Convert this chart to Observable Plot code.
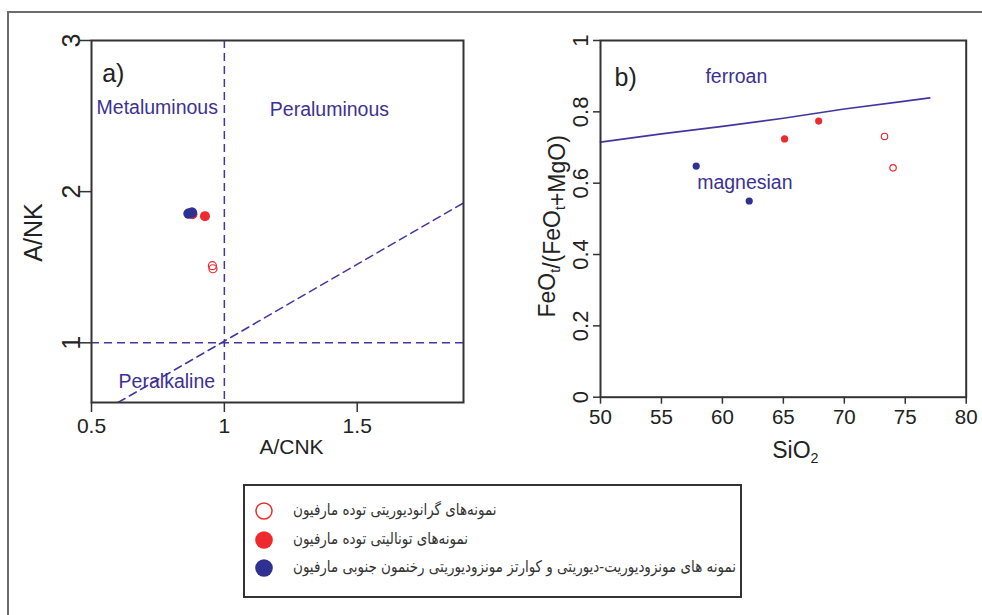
<!DOCTYPE html>
<html>
<head>
<meta charset="utf-8">
<script src="https://cdn.jsdelivr.net/npm/d3@7"></script>
<script src="https://cdn.jsdelivr.net/npm/@observablehq/plot@0.6"></script>
<style>
  body { margin: 0; background: #fff; }
  #fig { position: relative; width: 982px; height: 615px; overflow: hidden; background: #fff;
         font-family: "Liberation Sans", Arial, sans-serif; }
  #outer { position: absolute; left: 7px; top: 11px; width: 1100px; height: 800px;
           border-left: 2px solid #6b6b6b; border-top: 2px solid #6b6b6b; pointer-events: none; }
  .panel { position: absolute; top: 0; }
  #legend { position: absolute; left: 243px; top: 484px; width: 499px; height: 114px;
            border: 2px solid #333; box-sizing: border-box; }
  .lrow { position: absolute; left: 0; height: 24px; }
  .lrow svg { position: absolute; left: 9px; top: 2px; }
  .lrow span { position: absolute; left: 48px; top: 0px; white-space: nowrap; direction: rtl;
               font-family: "DejaVu Sans", sans-serif; font-size: 16px; color: #333; line-height: 22px;
               transform-origin: 0 50%; }
</style>
</head>
<body>
<div id="fig">
  <div id="panelA" class="panel" style="left:0px"></div>
  <div id="panelB" class="panel" style="left:490px"></div>
  <div id="legend"></div>
  <div id="outer"></div>
</div>
<script>
// ---------- data ----------
// Panel a: A/CNK vs A/NK
const acnkGrano = [0.955, 0.957];
const ankGrano  = [1.51, 1.49];
const acnkTonal = [0.88, 0.927];
const ankTonal  = [1.85, 1.838];
const acnkMonzo = [0.865, 0.878];
const ankMonzo  = [1.855, 1.862];
const diagX = [0.6, 1.9];          // dashed boundary line
const diagY = [0.605, 1.925];
const xTicksA = [0.5, 1, 1.5];
const yTicksA = [1, 2, 3];

// Panel b: SiO2 vs FeOt/(FeOt+MgO)
const sio2Grano = [73.3, 74.0];
const feGrano   = [0.731, 0.643];
const sio2Tonal = [65.1, 67.9];
const feTonal   = [0.724, 0.774];
const sio2Monzo = [57.85, 62.2];
const feMonzo   = [0.648, 0.55];
const boundSiO2 = [50, 55, 60, 65, 70, 75, 77];
const boundFe   = [0.715, 0.738, 0.759, 0.782, 0.808, 0.830, 0.839];
const xTicksB = [50, 55, 60, 65, 70, 75, 80];
const yTicksB = [0, 0.2, 0.4, 0.6, 0.8, 1];

// Legend
const legendKinds  = ["open", "red", "blue"];
const legendLabels = [
  "نمونه‌های گرانودیوریتی توده مارفیون",
  "نمونه‌های تونالیتی توده مارفیون",
  "نمونه های مونزودیوریت-دیوریتی و کوارتز مونزودیوریتی رخنمون جنوبی مارفیون"
];

// ---------- styles ----------
const RED = "#ee2a2e", BLUE = "#2e3192", LINE = "#4236a0", LABEL = "#3d3192", INK = "#222";
const FONT = "'Liberation Sans', Arial, sans-serif";
const zip = (xs, ys) => xs.map((x, i) => ({x, y: ys[i]}));
const DASH = {stroke: LINE, strokeWidth: 1.5, strokeDasharray: "8,5"};

// ---------- panel a ----------
const plotA = Plot.plot({
  width: 480, height: 470,
  marginLeft: 91, marginRight: 17, marginTop: 40, marginBottom: 68,
  x: {domain: [0.5, 1.9]},
  y: {domain: [0.605, 3]},
  style: {fontFamily: FONT, background: "transparent", color: INK, overflow: "visible"},
  marks: [
    Plot.ruleX([1], DASH),
    Plot.ruleY([1], DASH),
    Plot.line(zip(diagX, diagY), {x: "x", y: "y", ...DASH, clip: true}),
    Plot.dot(zip(acnkGrano, ankGrano), {x: "x", y: "y", r: 4, stroke: RED, fill: "none", strokeWidth: 1.2}),
    Plot.dot(zip(acnkTonal, ankTonal), {x: "x", y: "y", r: 5, fill: RED}),
    Plot.dot(zip(acnkMonzo, ankMonzo), {x: "x", y: "y", r: 5.2, fill: BLUE}),
    Plot.text(["a)"], {x: 0.54, y: 2.78, textAnchor: "start", fontSize: 25, fill: INK}),
    Plot.text(["Metaluminous"], {x: 0.519, y: 2.552, textAnchor: "start", fontSize: 19.5, fill: LABEL}),
    Plot.text(["Peraluminous"], {x: 1.171, y: 2.545, textAnchor: "start", fontSize: 19.5, fill: LABEL}),
    Plot.text(["Peralkaline"], {x: 0.602, y: 0.745, textAnchor: "start", fontSize: 19.5, fill: LABEL}),
    Plot.frame({stroke: "#333", strokeWidth: 2}),
    Plot.axisX({ticks: xTicksA, tickFormat: d => String(d), tickSize: 10, tickPadding: 6,
                fontSize: 21, label: null, stroke: "#333", strokeWidth: 1.5}),
    Plot.axisY({ticks: yTicksA, tickFormat: () => "", tickSize: 11, label: null, stroke: "#333", strokeWidth: 1.5}),
    Plot.text(yTicksA, {y: d => d, text: d => String(d), frameAnchor: "left", dx: -12, rotate: -90,
                        textAnchor: "middle", lineAnchor: "bottom", fontSize: 25, fill: INK}),
    Plot.text(["A/NK"], {frameAnchor: "left", dx: -58, dy: 11, rotate: -90, textAnchor: "middle",
                         lineAnchor: "middle", fontSize: 25, fill: INK}),
    Plot.text(["A/CNK"], {frameAnchor: "bottom", dx: 14, dy: 45, textAnchor: "middle",
                          lineAnchor: "middle", fontSize: 21, fill: INK})
  ]
});
document.getElementById("panelA").append(plotA);

// ---------- panel b ----------
const YLAB_B = "FeOt/(FeOt+MgO)";
const XLAB_B = "SiO2";
const plotB = Plot.plot({
  width: 490, height: 470,
  marginLeft: 110, marginRight: 14.3, marginTop: 40, marginBottom: 73.3,
  x: {domain: [50, 80]},
  y: {domain: [0, 1]},
  style: {fontFamily: FONT, background: "transparent", color: INK, overflow: "visible"},
  marks: [
    Plot.line(zip(boundSiO2, boundFe), {x: "x", y: "y", stroke: LINE, strokeWidth: 1.7}),
    Plot.dot(zip(sio2Grano, feGrano), {x: "x", y: "y", r: 3.2, stroke: RED, fill: "none", strokeWidth: 1.2}),
    Plot.dot(zip(sio2Tonal, feTonal), {x: "x", y: "y", r: 3.6, fill: RED}),
    Plot.dot(zip(sio2Monzo, feMonzo), {x: "x", y: "y", r: 3.6, fill: BLUE}),
    Plot.text(["b)"], {x: 51.15, y: 0.895, textAnchor: "start", fontSize: 25, fill: INK}),
    Plot.text(["ferroan"], {x: 58.61, y: 0.898, textAnchor: "start", fontSize: 19.5, fill: LABEL}),
    Plot.text(["magnesian"], {x: 57.93, y: 0.601, textAnchor: "start", fontSize: 19.5, fill: LABEL}),
    Plot.frame({stroke: "#333", strokeWidth: 2}),
    Plot.axisX({ticks: xTicksB, tickFormat: d => String(d), tickSize: 7, tickPadding: 5,
                fontSize: 20.5, label: null, stroke: "#333", strokeWidth: 1.5}),
    Plot.axisY({ticks: yTicksB, tickFormat: () => "", tickSize: 7, label: null, stroke: "#333", strokeWidth: 1.5}),
    Plot.text(yTicksB, {y: d => d, text: d => String(d), frameAnchor: "left", dx: -12.7, rotate: -90,
                        textAnchor: "middle", lineAnchor: "bottom", fontSize: 22, fill: INK}),
    Plot.text([YLAB_B], {frameAnchor: "left", dx: -53.3, dy: 7.5, rotate: -90, textAnchor: "middle",
                         lineAnchor: "middle", fontSize: 23, fill: INK}),
    Plot.text([XLAB_B], {frameAnchor: "bottom", dx: 12, dy: 53, textAnchor: "middle",
                         lineAnchor: "middle", fontSize: 23, fill: INK})
  ]
});
document.getElementById("panelB").append(plotB);

// subscripts in panel b labels
function subscriptify(svg, full, parts) {
  d3.select(svg).selectAll("text").filter(function() { return this.textContent === full; })
    .each(function() {
      const t = d3.select(this);
      t.text(null);
      parts.forEach(([s, sub]) => {
        t.append("tspan").text(s)
          .attr("font-size", sub ? "0.62em" : null)
          .attr("dy", sub ? "5" : null);
        if (sub) t.append("tspan").text("").attr("dy", "-5");
      });
    });
}
subscriptify(plotB, YLAB_B, [["FeO", false], ["t", true], ["/(FeO", false], ["t", true], ["+MgO)", false]]);
subscriptify(plotB, XLAB_B, [["SiO", false], ["2", true]]);

// ---------- legend ----------
const rowTops = [13, 42, 70];
const leg = d3.select("#legend");
const spans = [];
legendLabels.forEach((lab, i) => {
  const row = leg.append("div").attr("class", "lrow").style("top", rowTops[i] + "px").style("width", "490px");
  const s = row.append("svg").attr("width", 20).attr("height", 20);
  const kind = legendKinds[i];
  s.append("circle").attr("cx", 10).attr("cy", 10).attr("r", kind === "open" ? 8 : 8.8)
    .attr("fill", kind === "open" ? "#fff" : (kind === "red" ? RED : BLUE))
    .attr("stroke", kind === "open" ? RED : "none").attr("stroke-width", 1.5);
  spans.push(row.append("span").text(lab).node());
});
// fit the longest line to the width it has in the reference
const longest = spans[2].getBoundingClientRect().width;
const k = Math.min(1, 443 / longest);
spans.forEach(sp => sp.style.transform = `scaleX(${k})`);
</script>
</body>
</html>
